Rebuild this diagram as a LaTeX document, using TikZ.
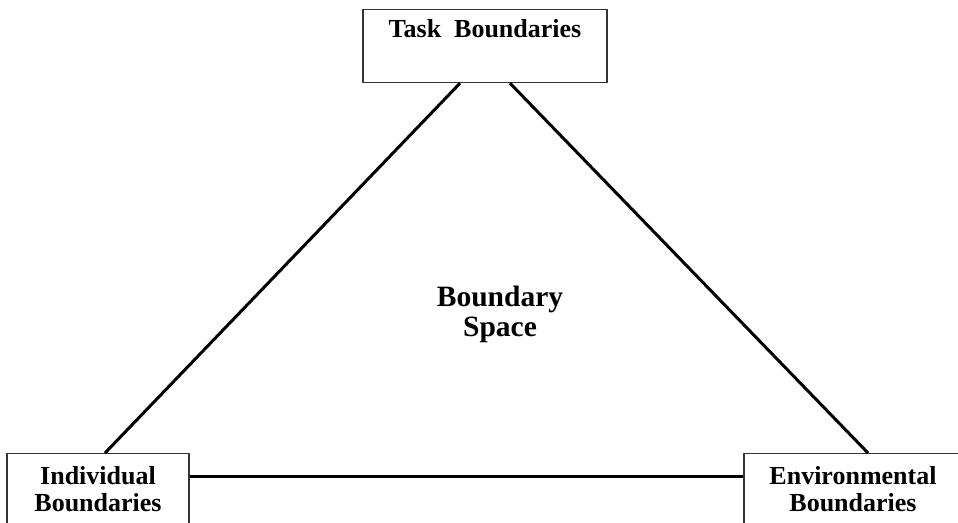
\documentclass[tikz,border=0pt]{standalone}
\usepackage{fontspec}
\setmainfont{Liberation Serif}
\tikzset{
 bnd/.style={draw=black!80, line width=1.2bp, inner sep=0pt, align=center, font=\fontsize{26bp}{27bp}\selectfont\bfseries},
 link/.style={line width=3bp}
}
\begin{document}
\begin{tikzpicture}[x=1bp, y=-1bp, line join=round]
 \useasboundingbox (0,0) rectangle (958,523);
 \node[bnd, anchor=north, minimum width=244bp, text height=28bp, text depth=45bp] (task) at (485,9) {Task~~Boundaries};
 \node[bnd, anchor=north, minimum width=182bp, minimum height=72bp] (indiv) at (98,453) {Individual\\Boundaries};
 \node[bnd, anchor=north, minimum width=218bp, minimum height=72bp] (env) at (853,453) {Environmental\\Boundaries};
 \node[font=\fontsize{29.5bp}{30bp}\selectfont\bfseries, align=center, inner sep=0pt] (space) at (500,314) {Boundary\\Space};
 \draw[link] ([xshift=-25bp]task.south) -- ([xshift=7bp]indiv.north);
 \draw[link] ([xshift=25bp]task.south) -- ([xshift=15bp]env.north);
 \draw[link] ([yshift=-23bp]indiv.north east) -- ([yshift=-23bp]env.north west);
\end{tikzpicture}
\end{document}
